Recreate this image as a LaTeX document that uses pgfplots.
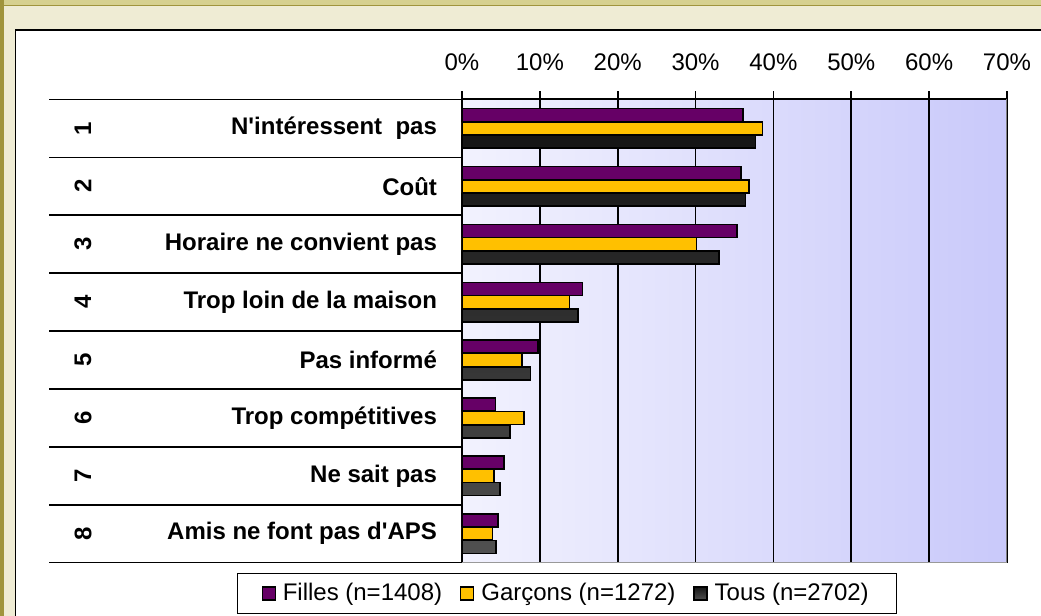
\documentclass[border=0pt]{standalone}
\usepackage{pgfplots}
\pgfplotsset{compat=1.18}
\usepackage{pgfplotstable}
\usepackage{fontspec}
\setmainfont{Liberation Sans}
\definecolor{filles}{HTML}{660066}
\definecolor{garcons}{HTML}{FFC000}
\definecolor{khaki}{HTML}{D6D08F}
\definecolor{beige}{HTML}{EFECD4}
\definecolor{olive}{HTML}{A0943C}
\definecolor{bgL}{HTML}{F2F2FE}
\definecolor{bgR}{HTML}{C9C9FA}
\definecolor{barTop}{HTML}{151515}
\definecolor{barBot}{HTML}{505050}

\pgfplotstableread{
cat filles garcons tous
1 36.1 38.6 37.7
2 35.8 36.9 36.4
3 35.3 30.1 33.0
4 15.5 13.8 14.9
5 9.8 7.7 8.8
6 4.3 8.0 6.2
7 5.4 4.1 4.9
8 4.6 3.9 4.4
}\data

\begin{document}
\begin{tikzpicture}
\useasboundingbox (0,0) rectangle (520.5pt,308pt);
\fill[beige] (0,0) rectangle (520.5pt,308pt);
\fill[khaki] (0,305.5pt) rectangle (520.5pt,308pt);
\draw[olive, line width=0.6pt] (0,305.3pt) -- (520.5pt,305.3pt);
\fill[olive] (0,0) rectangle (1.8pt,308pt);
\fill[white] (7.85pt,-2pt) rectangle (525pt,293pt);
\draw[black, line width=0.6pt] (7.85pt,-2pt) -- (7.85pt,293pt) -- (525pt,293pt);
\begin{axis}[
  at={(231pt,26.65pt)}, anchor=south west,
  scale only axis, width=272.5pt, height=231.65pt,
  xbar, xmin=0, xmax=70, ymin=0.5, ymax=8.5, y dir=reverse,
  axis x line*=top, axis y line*=left,
  axis line style={black, line width=1pt},
  tick align=outside,
  xtick={0,10,...,70},
  xticklabel={\pgfmathprintnumber{\tick}\%},
  /pgf/number format/assume math mode=true,
  xticklabel style={font=\fontsize{12}{14}\selectfont, yshift=7pt},
  major tick length=4pt,
  every major x tick/.style={black, line width=0.9pt},
  ytick={1,...,8},
  yticklabels={N\textquotesingle intéressent\ \ pas\hspace{3pt},Coût,Horaire ne convient pas,Trop loin de la maison,Pas informé,Trop compétitives,Ne sait pas,Amis ne font pas d\textquotesingle APS},
  yticklabel style={font=\bfseries\fontsize{12}{14}\selectfont, xshift=-5pt},
  every major y tick/.style={draw=none},
  minor ytick={0.5,1.5,...,8.5},
  minor tick length=206.4pt,
  every minor y tick/.style={black, line width=0.75pt},
  extra y ticks={1,...,8},
  extra y tick labels={1,2,3,4,5,6,7,8},
  extra y tick style={grid=none, yticklabel style={anchor=center, xshift=-180.5pt, rotate=90}},
  xmajorgrids, major grid style={black, line width=0.9pt},
  axis background/.style={left color=bgL, right color=bgR},
  bar width=6.5pt,
  legend columns=3,
  legend style={at={(0.193,-0.0665)}, anchor=center, draw=black, line width=0.7pt,
    font=\fontsize{12}{14}\selectfont,
    /tikz/every even column/.append style={column sep=7pt},
    /tikz/every odd column/.append style={column sep=1.5pt},
    inner xsep=12pt, inner ysep=3pt},
  legend image code/.code={\draw[#1, line width=0.6pt] (0pt,-3.2pt) rectangle (6.5pt,3.3pt);},
]
\addplot[draw=black, line width=0.8pt, fill=filles, bar shift=6.65pt] table[x=filles, y=cat] {\data};
\addplot[draw=black, line width=0.8pt, fill=garcons, bar shift=0pt] table[x=garcons, y=cat] {\data};
\addplot[draw=black, line width=0.8pt, top color=barTop, bottom color=barBot, bar shift=-6.65pt] table[x=tous, y=cat] {\data};
\legend{Filles (n=1408), Garçons (n=1272), Tous (n=2702)}
\draw[gray, line width=1pt] (axis description cs:1,0) -- (axis description cs:1,1);
\draw[gray!80, line width=0.6pt] (axis description cs:0,0) -- (axis description cs:1,0);
\end{axis}
\end{tikzpicture}
\end{document}
